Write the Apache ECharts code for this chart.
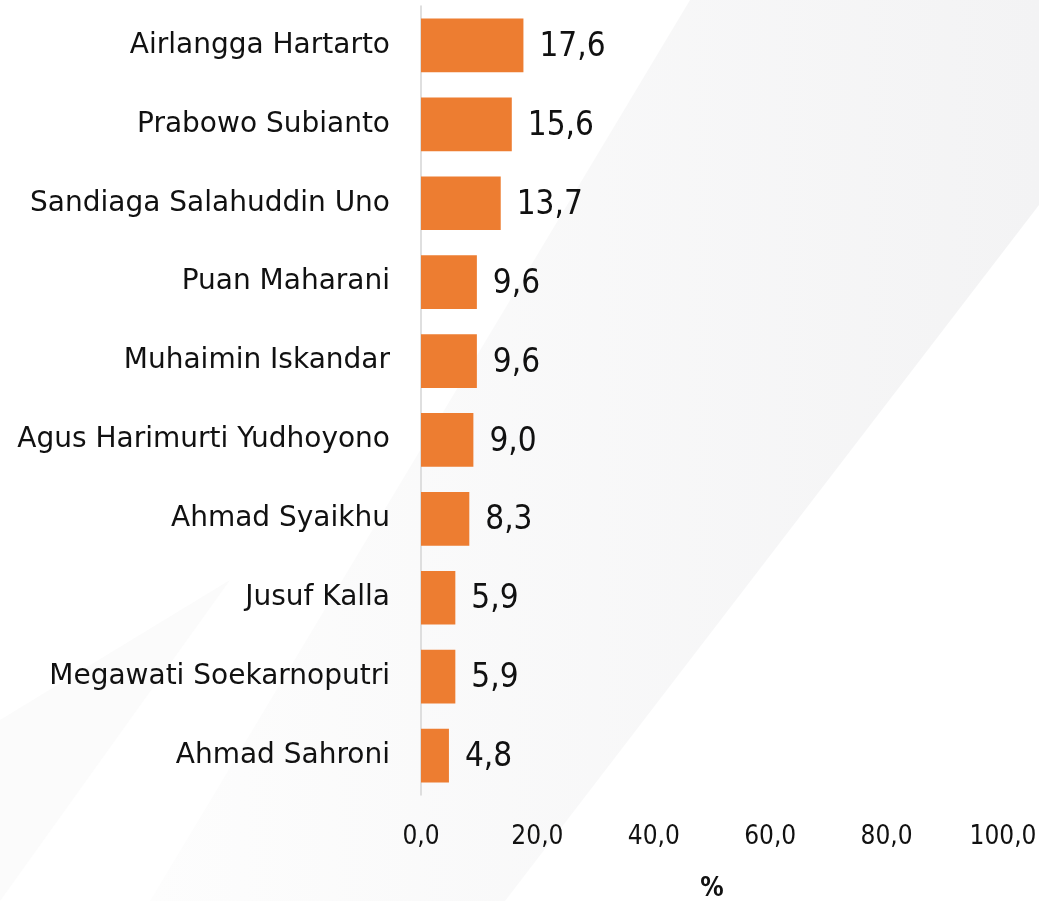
<!DOCTYPE html>
<html>
<head>
<meta charset="utf-8">
<script src="https://cdn.jsdelivr.net/npm/echarts@6/dist/echarts.min.js"></script>
<style>
html,body{margin:0;padding:0;background:#fff;}
#chart{width:1039px;height:901px;}
</style>
</head>
<body>
<div id="chart"></div>
<script>
const categories = [
  "Airlangga Hartarto",
  "Prabowo Subianto",
  "Sandiaga Salahuddin Uno",
  "Puan Maharani",
  "Muhaimin Iskandar",
  "Agus Harimurti Yudhoyono",
  "Ahmad Syaikhu",
  "Jusuf Kalla",
  "Megawati Soekarnoputri",
  "Ahmad Sahroni"
];
const values = [17.6, 15.6, 13.7, 9.6, 9.6, 9.0, 8.3, 5.9, 5.9, 4.8];
const axisMin = 0;
const axisMax = 100;
const axisStep = 20;
const axisName = "%";

const fmt = v => Number(v).toFixed(1).replace('.', ',');
const numFont = '"DejaVu Sans Condensed", "Roboto Condensed", Roboto, sans-serif';

const chart = echarts.init(document.getElementById('chart'), null, { width: 1039, height: 901 });
chart.setOption({
  backgroundColor: '#ffffff',
  animation: false,
  graphic: [
    {
      type: 'polygon', z: -10, silent: true,
      shape: { points: [[690,0],[1039,0],[1039,205],[505,901],[150,901]] },
      style: { fill: new echarts.graphic.LinearGradient(0,0,1,0,[{offset:0,color:'#fdfdfd'},{offset:1,color:'#f3f3f4'}]) }
    },
    {
      type: 'polygon', z: -11, silent: true,
      shape: { points: [[0,720],[230,580],[0,901]] },
      style: { fill: '#fbfbfb' }
    }
  ],
  grid: { left: 421, right: 36, top: 6, bottom: 106, containLabel: false, outerBoundsMode: 'none' },
  xAxis: {
    type: 'value',
    min: axisMin, max: axisMax, interval: axisStep,
    name: axisName,
    nameLocation: 'middle',
    nameGap: 81,
    nameTextStyle: { fontFamily: numFont, fontSize: 26, color: '#111', fontWeight: 'bold' },
    axisLine: { show: false },
    axisTick: { show: false },
    splitLine: { show: false },
    axisLabel: {
      formatter: fmt,
      margin: 29,
      fontFamily: numFont,
      fontSize: 26,
      fontWeight: 500,
      color: '#111'
    }
  },
  yAxis: {
    type: 'category',
    data: categories,
    inverse: true,
    axisLine: { show: true, lineStyle: { color: '#d5d5d5', width: 1.5 } },
    axisTick: { show: false },
    axisLabel: {
      margin: 31,
      fontFamily: '"DejaVu Sans"',
      fontSize: 28,
      color: '#111'
    }
  },
  series: [{
    type: 'bar',
    data: values,
    barCategoryGap: '32%',
    itemStyle: { color: '#ED7D31' },
    label: {
      show: true,
      position: 'right',
      distance: 16,
      offset: [0, 2],
      formatter: p => fmt(p.value),
      fontFamily: numFont,
      fontSize: 33,
      fontWeight: 500,
      color: '#111'
    }
  }]
});
</script>
</body>
</html>
